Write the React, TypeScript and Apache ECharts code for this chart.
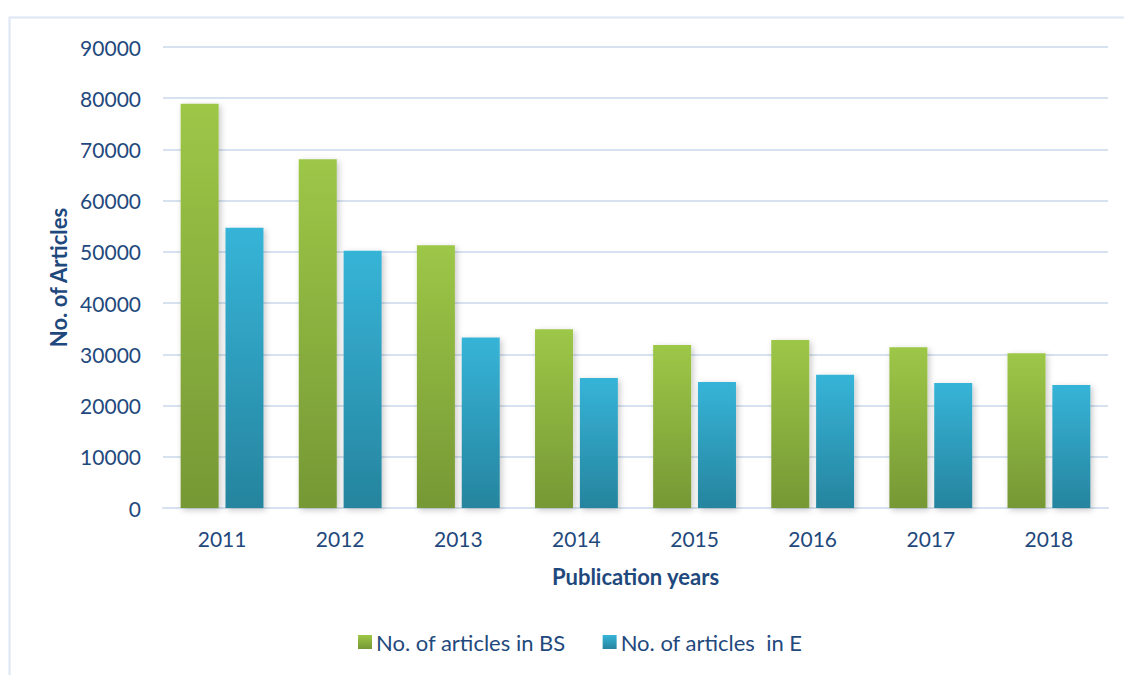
import React, { useEffect, useRef } from "react";
import * as echarts from "echarts";

const categories = ["2011", "2012", "2013", "2014", "2015", "2016", "2017", "2018"];
const bsValues = [78900, 68100, 51300, 34900, 31800, 32800, 31400, 30200];
const eValues = [54700, 50200, 33300, 25400, 24600, 26000, 24400, 24000];
const seriesNames = ["No. of articles in BS", "No. of articles  in E"];

const TEXT = "#1F497D";
const FONT = "Lato";

export default function App() {
  const ref = useRef<HTMLDivElement>(null);
  useEffect(() => {
    const chart = echarts.init(ref.current!, null, { renderer: "svg" });
    const green = new echarts.graphic.LinearGradient(0, 0, 0, 1, [
      { offset: 0, color: "#9DC747" },
      { offset: 1, color: "#769835" },
    ]);
    const blue = new echarts.graphic.LinearGradient(0, 0, 0, 1, [
      { offset: 0, color: "#36B4D8" },
      { offset: 1, color: "#26849E" },
    ]);
    const shadow = {
      shadowBlur: 6,
      shadowOffsetX: 2,
      shadowOffsetY: 2,
      shadowColor: "rgba(0,0,0,0.22)",
    };
    chart.setOption({
      animation: false,
      backgroundColor: "#ffffff",
      textStyle: { fontFamily: FONT, color: TEXT },
      graphic: [
        {
          type: "rect",
          shape: { x: 9.5, y: 17.5, width: 1200, height: 700 },
          style: { fill: "none", stroke: "#DCE6F4", lineWidth: 2 },
          silent: true,
          z: -10,
        },
      ],
      grid: { left: 163, right: 16, top: 47, bottom: 167, containLabel: false },
      legend: {
        bottom: 17,
        left: 353,
        itemWidth: 14,
        itemHeight: 14,
        itemGap: 37,
        icon: "rect",
        textStyle: { fontFamily: FONT, fontSize: 22, color: TEXT, padding: [0, 0, 0, -1] },
        data: seriesNames,
      },
      xAxis: {
        type: "category",
        data: categories,
        name: "Publication years",
        nameLocation: "middle",
        nameGap: 57,
        nameTextStyle: { fontFamily: FONT, fontSize: 22, fontWeight: "bold", color: TEXT },
        axisLine: { show: true, lineStyle: { color: "#D6E2F0", width: 2 } },
        axisTick: { show: false },
        axisLabel: { fontFamily: FONT, fontSize: 21, color: TEXT, margin: 20 },
      },
      yAxis: {
        type: "value",
        min: 0,
        max: 90000,
        interval: 10000,
        name: "No. of Articles",
        nameLocation: "middle",
        nameGap: 94,
        nameTextStyle: { fontFamily: FONT, fontSize: 22, fontWeight: "bold", color: TEXT },
        axisLine: { show: false },
        axisTick: { show: false },
        axisLabel: {
          fontFamily: FONT,
          fontSize: 21,
          color: TEXT,
          margin: 22,
          formatter: (v: number) => String(v),
        },
        splitLine: { lineStyle: { color: "#D6E2F0", width: 2 } },
      },
      series: [
        {
          name: seriesNames[0],
          type: "bar",
          data: bsValues,
          barWidth: 38,
          barGap: "18%",
          itemStyle: { color: green, ...shadow },
        },
        {
          name: seriesNames[1],
          type: "bar",
          data: eValues,
          barWidth: 38,
          barGap: "18%",
          itemStyle: { color: blue, ...shadow },
        },
      ],
    });
    return () => chart.dispose();
  }, []);
  return (
    <div
      ref={ref}
      style={{ position: "fixed", left: 0, top: 0, width: 1124, height: 675 }}
    />
  );
}
